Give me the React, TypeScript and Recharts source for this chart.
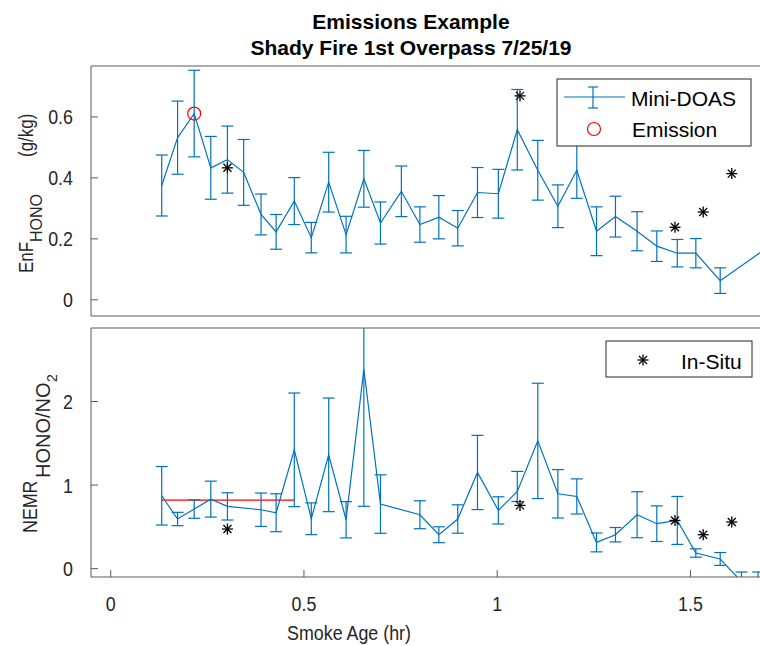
import React from 'react';
import { ComposedChart, Line, Scatter, XAxis, YAxis, ErrorBar } from 'recharts';

// Mini-DOAS emission factor (top panel)
const smokeAgeEnf = [
  0.132, 0.173, 0.216, 0.259, 0.302, 0.344, 0.389, 0.428, 0.475, 0.519, 0.564,
  0.609, 0.655, 0.698, 0.752, 0.8, 0.849, 0.898, 0.949, 1.003, 1.052, 1.105,
  1.157, 1.206, 1.257, 1.306, 1.362, 1.413, 1.466, 1.514, 1.577, 1.72,
];
const enfHono = [
  0.375, 0.532, 0.611, 0.433, 0.46, 0.418, 0.28, 0.223, 0.324, 0.204, 0.386,
  0.214, 0.397, 0.252, 0.356, 0.247, 0.271, 0.235, 0.352, 0.348, 0.558, 0.425,
  0.307, 0.425, 0.225, 0.273, 0.225, 0.176, 0.153, 0.153, 0.063, 0.19,
];
const enfHonoErr = [
  0.1, 0.12, 0.142, 0.103, 0.11, 0.108, 0.067, 0.057, 0.077, 0.05, 0.098,
  0.06, 0.093, 0.069, 0.083, 0.058, 0.071, 0.058, 0.082, 0.08, 0.132, 0.098,
  0.07, 0.092, 0.08, 0.067, 0.064, 0.05, 0.045, 0.048, 0.042, 0.05,
];

// Mini-DOAS NEMR (bottom panel)
const smokeAgeNemr = [
  0.132, 0.173, 0.216, 0.259, 0.302, 0.389, 0.428, 0.475, 0.519, 0.564, 0.609,
  0.655, 0.698, 0.8, 0.849, 0.898, 0.949, 1.003, 1.052, 1.105, 1.157, 1.206,
  1.257, 1.306, 1.362, 1.413, 1.466, 1.514, 1.577, 1.632, 1.675,
];
const nemrHono = [
  0.872, 0.594, 0.713, 0.832, 0.745, 0.705, 0.669, 1.422, 0.597, 1.362, 0.585,
  2.386, 0.773, 0.645, 0.406, 0.594, 1.151, 0.697, 0.924, 1.529, 0.896, 0.864,
  0.314, 0.406, 0.645, 0.538, 0.577, 0.187, 0.116, -0.155, -0.16,
];
const nemrHonoErr = [
  0.35, 0.08, 0.11, 0.215, 0.163, 0.2, 0.227, 0.68, 0.19, 0.68, 0.217,
  1.64, 0.35, 0.167, 0.095, 0.17, 0.444, 0.163, [0.12, 0.24], 0.69, 0.29, 0.21,
  0.113, 0.086, 0.275, 0.213, 0.287, 0.05, 0.077, 0.115, 0.12,
];

// In-situ
const smokeAgeInSitu = [0.302, 1.059, 1.46, 1.533, 1.607];
const enfInSitu = [0.433, 0.669, 0.238, 0.288, 0.414];
const nemrInSitu = [0.474, 0.757, 0.577, 0.406, 0.558];

// Emission
const emissionAge = [0.216];
const emissionEnf = [0.611];
const emissionRatioAge = [0.132, 0.475];
const emissionRatio = [0.821, 0.821];

const xTicks = [0, 0.5, 1, 1.5];
const enfTicks = [0, 0.2, 0.4, 0.6];
const nemrTicks = [0, 1, 2];

const blue = '#0072BD';
const axisColor = '#5a5a5a';
const textColor = '#262626';
const font = "'Liberation Sans', Arial, sans-serif";
const xDomain = [-0.051, 1.68];
const squeeze = 0.85; // axis text in the figure is horizontally condensed

const enfData = smokeAgeEnf.map((x, i) => ({ x, y: enfHono[i], err: enfHonoErr[i] }));
const nemrData = smokeAgeNemr.map((x, i) => ({ x, y: nemrHono[i], err: nemrHonoErr[i] }));
const enfInSituData = smokeAgeInSitu.map((x, i) => ({ x, y: enfInSitu[i] }));
const nemrInSituData = smokeAgeInSitu.map((x, i) => ({ x, y: nemrInSitu[i] }));
const emissionData = emissionAge.map((x, i) => ({ x, y: emissionEnf[i] }));
const ratioData = emissionRatioAge.map((x, i) => ({ x, y: emissionRatio[i] }));

const clipCss = `
.panel-top .recharts-line, .panel-top .recharts-scatter, .panel-top .recharts-errorBar { clip-path: url(#clipTop); }
.panel-bot .recharts-line, .panel-bot .recharts-scatter, .panel-bot .recharts-errorBar { clip-path: url(#clipBot); }
`;

const Asterisk = (props: any) => {
  const { cx, cy } = props;
  if (cx == null || cy == null) return null;
  const r = 5.5;
  const d = 4;
  return (
    <g stroke="#000" strokeWidth={1.3}>
      <line x1={cx - r} y1={cy} x2={cx + r} y2={cy} />
      <line x1={cx} y1={cy - r} x2={cx} y2={cy + r} />
      <line x1={cx - d} y1={cy - d} x2={cx + d} y2={cy + d} />
      <line x1={cx - d} y1={cy + d} x2={cx + d} y2={cy - d} />
    </g>
  );
};

const RedCircle = (props: any) => {
  const { cx, cy } = props;
  if (cx == null || cy == null) return null;
  return <circle cx={cx} cy={cy} r={6.5} fill="none" stroke="red" strokeWidth={1.2} />;
};

const XTick = (props: any) => {
  const { x, y, payload } = props;
  return (
    <g transform={`translate(${x},${y}) scale(${squeeze},1)`}>
      <text textAnchor="middle" dy="0.71em" fontSize={21} fontFamily={font} fill={textColor}>
        {payload.value}
      </text>
    </g>
  );
};

const YTick = (props: any) => {
  const { x, y, payload } = props;
  return (
    <g transform={`translate(${x},${y}) scale(${squeeze},1)`}>
      <text textAnchor="end" dy="0.355em" fontSize={21} fontFamily={font} fill={textColor}>
        {payload.value}
      </text>
    </g>
  );
};

// rotated label piece: (x, y) is the start of the baseline
const VLabel = ({ x, y, size, sq, children }: any) => (
  <g transform={`translate(${x},${y}) rotate(-90) scale(${sq ? squeeze : 1},1)`}>
    <text fontFamily={font} fontSize={size} fill={textColor}>{children}</text>
  </g>
);

export default function App() {
  return (
    <div style={{ position: 'absolute', left: 0, top: 0, width: 760, height: 646, background: '#fff', overflow: 'hidden' }}>
      <style>{clipCss}</style>
      <div className="panel-top" style={{ position: 'absolute', left: 0, top: 0 }}>
        <ComposedChart width={760} height={330} margin={{ top: 65, right: 0, bottom: 13, left: 31 }}>
          <XAxis type="number" dataKey="x" domain={xDomain} allowDataOverflow ticks={xTicks} interval={0}
            tick={false} tickSize={-7} height={1} stroke={axisColor} />
          <XAxis xAxisId="top" orientation="top" type="number" dataKey="x" domain={xDomain} allowDataOverflow
            ticks={xTicks} interval={0} tick={false} tickSize={-7} height={1} stroke={axisColor} />
          <YAxis type="number" domain={[-0.053, 0.767]} allowDataOverflow ticks={enfTicks} interval={0}
            tickSize={-7} tickMargin={25} width={60} stroke={axisColor} tick={<YTick />} />
          <Line data={enfData} dataKey="y" type="linear" stroke={blue} strokeWidth={1.2} dot={false}
            activeDot={false} isAnimationActive={false}>
            <ErrorBar dataKey="err" direction="y" width={6} stroke={blue} strokeWidth={1.2} />
          </Line>
          <Scatter data={enfInSituData} dataKey="y" shape={Asterisk} isAnimationActive={false} />
          <Scatter data={emissionData} dataKey="y" shape={RedCircle} isAnimationActive={false} />
        </ComposedChart>
      </div>
      <div className="panel-bot" style={{ position: 'absolute', left: 0, top: 320 }}>
        <ComposedChart width={760} height={326} margin={{ top: 7, right: 0, bottom: 39, left: 31 }}>
          <XAxis type="number" dataKey="x" domain={xDomain} allowDataOverflow ticks={xTicks} interval={0}
            tickSize={-7} tickMargin={26} height={30} stroke={axisColor} tick={<XTick />} />
          <XAxis xAxisId="top" orientation="top" type="number" dataKey="x" domain={xDomain} allowDataOverflow
            ticks={xTicks} interval={0} tick={false} tickSize={-7} height={1} stroke={axisColor} />
          <YAxis type="number" domain={[-0.1, 2.88]} allowDataOverflow ticks={nemrTicks} interval={0}
            tickSize={-7} tickMargin={25} width={60} stroke={axisColor} tick={<YTick />} />
          <Line data={ratioData} dataKey="y" type="linear" stroke="red" strokeWidth={1.2} dot={false}
            activeDot={false} isAnimationActive={false} />
          <Line data={nemrData} dataKey="y" type="linear" stroke={blue} strokeWidth={1.2} dot={false}
            activeDot={false} isAnimationActive={false}>
            <ErrorBar dataKey="err" direction="y" width={6} stroke={blue} strokeWidth={1.2} />
          </Line>
          <Scatter data={nemrInSituData} dataKey="y" shape={Asterisk} isAnimationActive={false} />
        </ComposedChart>
      </div>
      <svg width={760} height={646} style={{ position: 'absolute', left: 0, top: 0, pointerEvents: 'none' }}>
        <defs>
          <clipPath id="clipTop" clipPathUnits="userSpaceOnUse">
            <rect x={91} y={66} width={669} height={250} />
          </clipPath>
          <clipPath id="clipBot" clipPathUnits="userSpaceOnUse">
            <rect x={91} y={8} width={669} height={249} />
          </clipPath>
        </defs>
        <g fontFamily={font} fontWeight="bold" fontSize={21} fill="#000" textAnchor="middle">
          <text x={411} y={29}>Emissions Example</text>
          <text x={411} y={55}>Shady Fire 1st Overpass 7/25/19</text>
        </g>
        <g transform={`translate(349,640) scale(${squeeze},1)`}>
          <text textAnchor="middle" fontFamily={font} fontSize={21} fill={textColor}>Smoke Age (hr)</text>
        </g>
        <VLabel x={33} y={273} size={20} sq>EnF</VLabel>
        <VLabel x={42} y={242} size={16}>HONO</VLabel>
        <VLabel x={33} y={157} size={20} sq>(g/kg)</VLabel>
        <VLabel x={37} y={533} size={21} sq>NEMR</VLabel>
        <VLabel x={50} y={478} size={20}>HONO/NO</VLabel>
        <VLabel x={57} y={382} size={14}>2</VLabel>
        <rect x={557} y={79} width={194} height={67} fill="#fff" stroke={textColor} strokeWidth={1} />
        <g stroke={blue} strokeWidth={1.2}>
          <line x1={564} y1={97} x2={625} y2={97} />
          <line x1={593} y1={87} x2={593} y2={108} />
          <line x1={588} y1={87} x2={598} y2={87} />
          <line x1={588} y1={108} x2={598} y2={108} />
        </g>
        <circle cx={594} cy={129} r={6.5} fill="none" stroke="red" strokeWidth={1.2} />
        <g fontFamily={font} fontSize={21} fill="#000">
          <text x={631} y={106}>Mini-DOAS</text>
          <text x={632} y={137}>Emission</text>
        </g>
        <rect x={606} y={341} width={146} height={36} fill="#fff" stroke={textColor} strokeWidth={1} />
        <Asterisk cx={643} cy={360} />
        <text x={681} y={369} fontFamily={font} fontSize={21} fill="#000">In-Situ</text>
      </svg>
    </div>
  );
}
